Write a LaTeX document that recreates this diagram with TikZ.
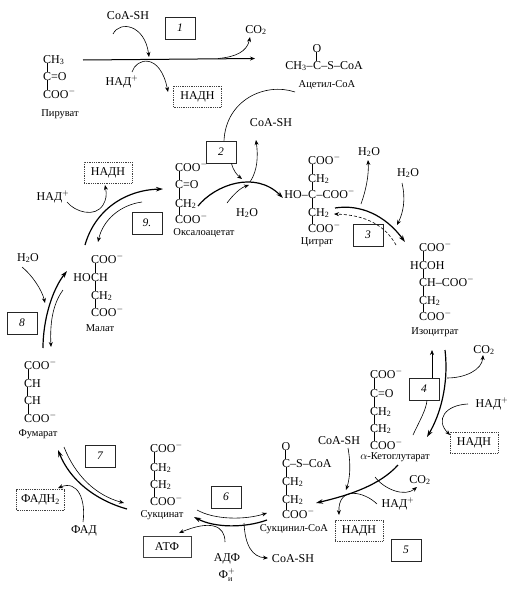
\documentclass[tikz,border=0pt]{standalone}
\usepackage{fontspec}
\setmainfont{Liberation Serif}
\usepackage{amsmath}
\usetikzlibrary{positioning, arrows.meta}
\begin{document}
\begin{tikzpicture}[
    x=1pt, y=-1pt,
    chem/.style={anchor=west, inner sep=0pt, text height=8pt, text depth=0pt,
      font=\fontsize{12}{12}\selectfont},
    side/.style={inner sep=0pt, text height=8pt, text depth=0pt,
      font=\fontsize{12}{12}\selectfont},
    lbl/.style={inner sep=0pt, font=\fontsize{10.5}{11}\selectfont},
    reag/.style={inner sep=0pt, font=\fontsize{12}{12}\selectfont},
    stepbox/.style={draw=black!85, line width=0.9pt, minimum width=30pt,
      minimum height=22pt, inner sep=0pt, font=\fontsize{11.5}{12}\selectfont\itshape},
    dotbox/.style={draw=black!75, dash pattern=on 0.9pt off 0.9pt, line width=0.9pt,
      minimum width=48pt, minimum height=21pt, inner sep=0pt,
      font=\fontsize{12}{12}\selectfont},
    solidbox/.style={dotbox, solid},
    bond/.style={line width=0.5pt},
    dbond/.style={line width=0.4pt, double, double distance=1pt},
    arr/.style={-{Stealth[length=5pt, width=4pt]}, line width=0.6pt},
    arrplain/.style={line width=0.6pt},
    arrthick/.style={-{Stealth[length=7pt, width=4.5pt]}, line width=1.2pt}
  ]
  \useasboundingbox (0,0) rectangle (518,589);

  % pyruvate and acetyl
  \node[chem] (pyr1) at (43,59) {CH\textsubscript{3}};
  \node[chem] (pyr2) at (43,76) {C=O};
  \node[chem] (pyr3) at (43,94) {COO$^-$};
  \node[lbl] (pyrname) at (60,114) {Пируват};
  \node[side] (ac2) at (317,65) {C};
  \node[side, left=0pt of ac2] (ac1) {CH\textsubscript{3}--};
  \node[side, right=0pt of ac2] (ac3) {--S--CoA};
  \node[side] (ac0) at (317,48) {O};
  \node[lbl] (acname) at (327,85) {Ацетил-CoA};

  % four acids at the top
  \node[chem] (oxa1) at (175,167) {COO$^-$};
  \node[chem] (oxa2) at (175,184) {C=O};
  \node[chem] (oxa3) at (175,203) {CH\textsubscript{2}};
  \node[chem] (oxa4) at (175,219) {COO$^-$};
  \node[lbl] (oxaname) at (204,233) {Оксалоацетат};

  \node[chem] (cit1) at (308,160) {COO$^-$};
  \node[chem] (cit2) at (308,178) {CH\textsubscript{2}};
  \node[chem] (cit3) at (308,194) {C};
  \node[side, left=0pt of cit3] (cit3a) {HO--};
  \node[side, right=0pt of cit3] (cit3b) {--COO$^-$};
  \node[chem] (cit4) at (308,212) {CH\textsubscript{2}};
  \node[chem] (cit5) at (308,228) {COO$^-$};
  \node[lbl] (citname) at (317,242) {Цитрат};

  \node[chem] (iso1) at (419,247) {COO$^-$};
  \node[chem] (iso2) at (419,265) {COH};
  \node[side, left=0pt of iso2] (iso2a) {H};
  \node[chem] (iso3) at (419,282) {CH--COO$^-$};
  \node[chem] (iso4) at (419,300) {CH\textsubscript{2}};
  \node[chem] (iso5) at (419,316) {COO$^-$};
  \node[lbl] (isoname) at (435,332) {Изоцитрат};

  \node[chem] (keto1) at (370,374) {COO$^-$};
  \node[chem] (keto2) at (370,393) {C=O};
  \node[chem] (keto3) at (370,411) {CH\textsubscript{2}};
  \node[chem] (keto4) at (370,428) {CH\textsubscript{2}};
  \node[chem] (keto5) at (370,445) {COO$^-$};
  \node[lbl] (ketoname) at (395,457) {$\alpha$-Кетоглутарат};

  \node[side] (suc0) at (286,446) {O};
  \node[chem] (suc1) at (282,463) {C--S--CoA};
  \node[chem] (suc2) at (282,481) {CH\textsubscript{2}};
  \node[chem] (suc3) at (282,499) {CH\textsubscript{2}};
  \node[chem] (suc4) at (282,514) {COO$^-$};
  \node[lbl] (sucname) at (294,529) {Сукцинил-CoA};

  \node[chem] (sin1) at (150,448) {COO$^-$};
  \node[chem] (sin2) at (150,467) {CH\textsubscript{2}};
  \node[chem] (sin3) at (150,484) {CH\textsubscript{2}};
  \node[chem] (sin4) at (150,501) {COO$^-$};
  \node[lbl] (sinname) at (162,515) {Сукцинат};

  \node[chem] (fum1) at (24,365) {COO$^-$};
  \node[chem] (fum2) at (24,383) {CH};
  \node[chem] (fum3) at (24,400) {CH};
  \node[chem] (fum4) at (24,418) {COO$^-$};
  \node[lbl] (fumname) at (38,434) {Фумарат};

  \node[chem] (mal1) at (91,259) {COO$^-$};
  \node[chem] (mal2) at (91,277) {CH};
  \node[side, left=0pt of mal2] (mal2a) {HO};
  \node[chem] (mal3) at (91,295) {CH\textsubscript{2}};
  \node[chem] (mal4) at (91,312) {COO$^-$};
  \node[lbl] (malname) at (100,328) {Малат};

  \foreach \a/\b in {pyr1/pyr2, pyr2/pyr3, oxa1/oxa2, oxa2/oxa3, oxa3/oxa4,
      cit1/cit2, cit2/cit3, cit3/cit4, cit4/cit5, iso1/iso2, iso2/iso3, iso3/iso4, iso4/iso5,
      keto1/keto2, keto2/keto3, keto3/keto4, keto4/keto5, suc1/suc2, suc2/suc3, suc3/suc4,
      sin1/sin2, sin2/sin3, sin3/sin4, fum1/fum2, fum3/fum4, mal1/mal2, mal2/mal3, mal3/mal4}
    \draw[bond] ([xshift=4pt]\a.south west) -- ([xshift=4pt]\b.north west);
  \draw[dbond] ([xshift=4pt]fum2.south west) -- ([xshift=4pt]fum3.north west);
  \draw[dbond] (ac0) -- (ac2);
  \draw[dbond] (suc0) -- ([xshift=4pt]suc1.north west);

  % reagents
  \node[reag] (coa1) at (128,16) {CoA-SH};
  \node[reag] (co1) at (256,30) {CO\textsubscript{2}};
  \node[reag] (nad1) at (122,82) {НАД$^+$};
  \node[reag] (coa2) at (271,123) {CoA-SH};
  \node[reag] (wat2) at (247,213) {H\textsubscript{2}O};
  \node[reag] (wat3a) at (369,152) {H\textsubscript{2}O};
  \node[reag] (wat3b) at (408,173) {H\textsubscript{2}O};
  \node[reag] (co4) at (484,350) {CO\textsubscript{2}};
  \node[reag] (nad4) at (492,404) {НАД$^+$};
  \node[reag] (coa5) at (339,441) {CoA-SH};
  \node[reag] (co5) at (420,480) {CO\textsubscript{2}};
  \node[reag] (nad5) at (398,504) {НАД$^+$};
  \node[reag] (coa6) at (293,559) {CoA-SH};
  \node[reag] (adp) at (227,559) {АДФ};
  \node[reag] (phos) at (227,575) {Ф$^+_{\text{и}}$};
  \node[reag] (fad) at (84,531) {ФАД};
  \node[reag] (wat8) at (28,258) {H\textsubscript{2}O};
  \node[reag] (nad9) at (53,197) {НАД$^+$};

  % numbered steps and cofactors
  \node[stepbox] (box1) at (180,28) {1};
  \node[stepbox] (box2) at (221,152) {2};
  \node[stepbox] (box3) at (368,235) {3};
  \node[stepbox] (box4) at (424,389) {4};
  \node[stepbox] (box5) at (406,550) {5};
  \node[stepbox] (box6) at (226,497) {6};
  \node[stepbox] (box7) at (100,456) {7};
  \node[stepbox] (box8) at (22,323) {8};
  \node[stepbox] (box9) at (147,223) {9.};
  \node[dotbox] (nadh1) at (197.5,96.5) {НАДН};
  \node[dotbox] (nadh9) at (108,172.5) {НАДН};
  \node[dotbox] (nadh4) at (474,442.5) {НАДН};
  \node[dotbox] (nadh5) at (359,531) {НАДН};
  \node[dotbox] (fadh) at (40.5,500) {ФАДН\textsubscript{2}};
  \node[solidbox] (atp) at (167,546.5) {АТФ};

  % free ends of the arrows
  \foreach \nm/\xx/\yy in {m1a/83/60, m1b/255/58.5, m1c/218/58.5, m1d/145/59, m1e/149/57,
      n1/132/72, c1/113/34, co1a/250/37, n1b/168/92, ac/295/92, m2a/198/206, m2b/283/198,
      m2c/242/179, m2d/250/182, c2b/256/140, w2/227/203, w2b/249/185,
      m3a/335/208, m3b/405/242, d3a/396/245, d3b/334/214, w3a/361/204, w3b/368/160,
      w3c/402/183, w3d/397/225, m4a/445/350, m4b/427/437, t4a/413/435, t4b/432/350,
      co4a/447/378, co4b/483/355, n4/468/404, n4b/450/435, m5a/398/465, m5b/316/503,
      co5a/375/477, co5b/417/487, c5a/348/448, c5b/346/490, n5/377/504, n5b/339/515,
      m6a/197/510, m6b/267/513, m6c/267/520, m6d/194/517, ad/225/542, ad2/179/533,
      c6a/244/523, c6b/268/558, m7a/64/447, m7b/124/503, m7c/127/509, m7d/58/450,
      f7/83/522, f7b/58/488, m8a/43/348, m8b/67/271, m8c/63/290, m8d/51/347,
      w8/22/267, w8b/45/303, m9a/85/245, m9b/163/189, m9c/142/202, m9d/98/242,
      n9/67/202, n9b/103/205, n9c/105/185}
    \coordinate (\nm) at (\xx,\yy);

  % step 1
  \draw[arr, line width=1pt] (m1a) -- (m1b);
  \draw[arr] (c1) .. controls (120,20) and (145,25) .. (m1e);
  \draw[arr] (m1c) .. controls (235,57) and (247,52) .. (co1a);
  \draw[arr] (n1) .. controls (136,58) and (160,52) .. (n1b);
  % step 2
  \draw[arrplain] (ac) .. controls (265,82) and (226,100) .. ([xshift=3pt]box2.north);
  \draw[arr] ([xshift=-5pt]box2.south east) .. controls (233,170) and (237,175) .. (m2c);
  \draw[arrthick] (m2a) .. controls (215,185) and (255,170) .. (m2b);
  \draw[arr] (m2d) .. controls (258,170) and (258,155) .. (c2b);
  \draw[arr] (w2) .. controls (233,195) and (240,188) .. (w2b);
  % step 3
  \draw[arrthick] (m3a) .. controls (360,204) and (385,215) .. (m3b);
  \draw[arr, densely dashed] (d3a) .. controls (385,225) and (365,215) .. (d3b);
  \draw[arr] (w3a) .. controls (366,190) and (369,175) .. (w3b);
  \draw[arr] (w3c) .. controls (406,200) and (403,213) .. (w3d);
  % step 4
  \draw[arrthick] (m4a) .. controls (449,385) and (440,415) .. (m4b);
  \draw[arrplain] (t4a) .. controls (420,420) and (426,410) .. ([xshift=3pt]box4.south);
  \draw[arr] ([xshift=8pt]box4.north) -- (t4b);
  \draw[arr] (co4a) .. controls (465,378) and (482,370) .. (co4b);
  \draw[arr] (n4) .. controls (445,405) and (435,420) .. (n4b);
  % step 5
  \draw[arrthick] (m5a) .. controls (380,485) and (350,495) .. (m5b);
  \draw[arr] (co5a) .. controls (385,490) and (405,497) .. (co5b);
  \draw[arr] (c5a) .. controls (351,465) and (350,478) .. (c5b);
  \draw[arr] (n5) .. controls (365,492) and (338,485) .. (n5b);
  % step 6
  \draw[arr] (m6a) .. controls (215,520) and (245,520) .. (m6b);
  \draw[arrthick] (m6c) .. controls (245,528) and (215,528) .. (m6d);
  \draw[arr] (ad) .. controls (225,525) and (210,520) .. (ad2);
  \draw[arr] (c6a) .. controls (245,545) and (252,557) .. (c6b);
  % step 7
  \draw[arr] (m7a) .. controls (75,475) and (95,495) .. (m7b);
  \draw[arrthick] (m7c) .. controls (95,500) and (70,480) .. (m7d);
  \draw[arr] (f7) .. controls (86,500) and (78,480) .. (f7b);
  % step 8
  \draw[arrthick] (m8a) .. controls (43,320) and (52,290) .. (m8b);
  \draw[arr] (m8c) .. controls (52,305) and (50,325) .. (m8d);
  \draw[arr] (w8) .. controls (32,275) and (42,290) .. (w8b);
  % step 9
  \draw[arrthick] (m9a) .. controls (95,210) and (125,190) .. (m9b);
  \draw[arr] (m9c) .. controls (120,205) and (103,220) .. (m9d);
  \draw[arr] (n9) .. controls (75,212) and (95,218) .. (n9b) .. controls (106,200) and (107,195) .. (n9c);
\end{tikzpicture}
\end{document}
